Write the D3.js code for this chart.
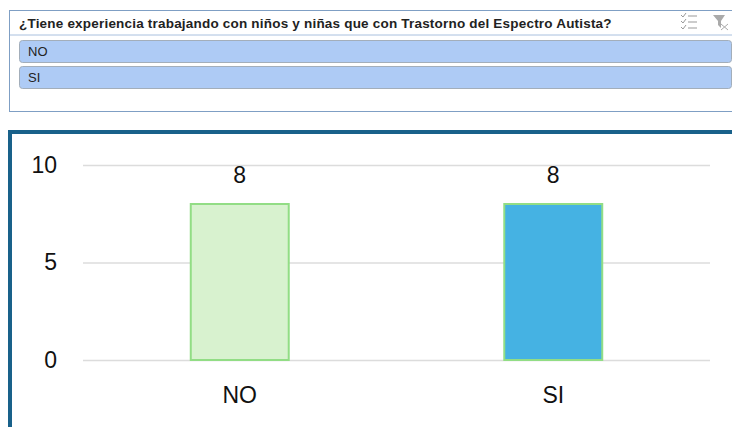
<!DOCTYPE html>
<html>
<head>
<meta charset="utf-8">
<script src="https://cdnjs.cloudflare.com/ajax/libs/d3/7.8.5/d3.min.js"></script>
<style>
html, body { margin: 0; padding: 0; background: #fff; overflow: hidden; }
svg { display: block; }
text { font-family: "Liberation Sans", Arial, sans-serif; }
</style>
</head>
<body>
<svg class="chart" width="732" height="427"></svg>
<script>
var title = "¿Tiene experiencia trabajando con niños y niñas que con Trastorno del Espectro Autista?";
var categories = ["NO", "SI"];
var values = [8, 8];
var yTicks = [0, 5, 10];
var barFills = ["#d8f2cf", "#45b2e3"];

var svg = d3.select(".chart");

// slicer panel on top
var slicer = svg.append("g");

slicer.append("rect")
    .attr("x", 9.5).attr("y", 10.5)
    .attr("width", 740).attr("height", 101)
    .attr("fill", "#fff")
    .attr("stroke", "#7f9fc4");

slicer.append("line")
    .attr("x1", 10).attr("x2", 732)
    .attr("y1", 35).attr("y2", 35)
    .attr("stroke", "#a9c0de");

slicer.append("text")
    .attr("x", 19).attr("y", 28)
    .attr("font-size", 13.5)
    .attr("letter-spacing", 0.2)
    .attr("font-weight", "bold")
    .attr("fill", "#222")
    .text(title);

var slicerRows = slicer.selectAll(".row")
    .data(categories).enter()
    .append("g")
    .attr("class", "row")
    .attr("transform", function (d, i) {
        return "translate(0," + (40 + i * 26) + ")";
    });

slicerRows.append("rect")
    .attr("x", 19.5).attr("y", 0.5)
    .attr("width", 712).attr("height", 22)
    .attr("rx", 3)
    .attr("fill", "#aecbf5")
    .attr("stroke", "#a3aeba");

slicerRows.append("text")
    .attr("x", 28).attr("y", 16)
    .attr("font-size", 13)
    .attr("fill", "#222")
    .text(function (d) { return d; });

// list icon
var listIcon = slicer.append("g")
    .attr("fill", "none")
    .attr("stroke", "#999");

[17, 23, 29].forEach(function (y) {
    listIcon.append("line")
        .attr("x1", 688).attr("x2", 697)
        .attr("y1", y - 1).attr("y2", y - 1);
    listIcon.append("path")
        .attr("d", "M681 " + (y - 2) + "l2 2l3 -4");
});

// clear filter icon
slicer.append("path")
    .attr("d", "M713 15h12l-4 6v7l-3 -3v-4z")
    .attr("fill", "#aaa");
slicer.append("path")
    .attr("d", "M721 24l7 6M728 24l-7 6")
    .attr("fill", "none")
    .attr("stroke", "#aaa");

// bar chart frame
svg.append("rect")
    .attr("x", 10).attr("y", 132)
    .attr("width", 740).attr("height", 310)
    .attr("fill", "#fff")
    .attr("stroke", "#19618a")
    .attr("stroke-width", 4);

var xScale = d3.scaleBand()
    .domain(categories)
    .range([83, 710])
    .paddingInner(0.6875)
    .paddingOuter(0.34375);

var yScale = d3.scaleLinear()
    .domain([0, 10])
    .range([360, 165]);

var yAxis = d3.axisLeft(yScale)
    .tickValues(yTicks)
    .tickSize(-627)
    .tickPadding(26);

svg.append("g")
    .attr("class", "axis-y")
    .attr("transform", "translate(83,0)")
    .call(yAxis)
    .call(function (g) { g.select(".domain").remove(); })
    .call(function (g) {
        g.selectAll("line").attr("stroke", "#dcdcdc").attr("stroke-width", 1.5);
        g.selectAll("text")
            .attr("font-family", "'Liberation Sans', Arial, sans-serif")
            .attr("font-size", 23)
            .attr("fill", "#111");
    });

var xAxis = d3.axisBottom(xScale)
    .tickSize(0)
    .tickPadding(27);

svg.append("g")
    .attr("class", "axis-x")
    .attr("transform", "translate(0,360)")
    .call(xAxis)
    .call(function (g) { g.select(".domain").remove(); })
    .call(function (g) {
        g.selectAll("text")
            .attr("font-family", "'Liberation Sans', Arial, sans-serif")
            .attr("font-size", 23)
            .attr("fill", "#111");
    });

svg.selectAll(".bar")
    .data(values).enter()
    .append("rect")
    .attr("class", "bar")
    .attr("x", function (d, i) { return xScale(categories[i]); })
    .attr("y", function (d) { return yScale(d); })
    .attr("width", xScale.bandwidth())
    .attr("height", function (d) { return yScale(0) - yScale(d); })
    .attr("fill", function (d, i) { return barFills[i]; })
    .attr("stroke", "#92dd85")
    .attr("stroke-width", 2);

svg.selectAll(".bar-label")
    .data(values).enter()
    .append("text")
    .attr("class", "bar-label")
    .attr("x", function (d, i) { return xScale(categories[i]) + xScale.bandwidth() / 2; })
    .attr("y", function (d) { return yScale(d) - 21; })
    .attr("text-anchor", "middle")
    .attr("font-size", 23)
    .attr("fill", "#111")
    .text(function (d) { return d; });
</script>
</body>
</html>
